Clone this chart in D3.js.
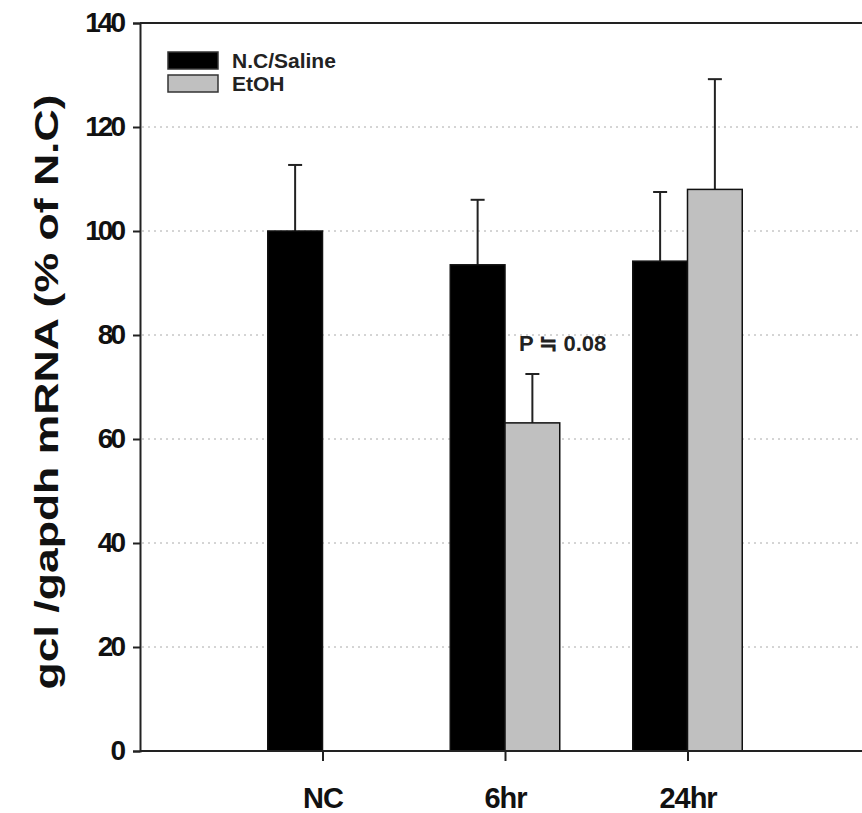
<!DOCTYPE html>
<html lang="en">
<head>
  <meta charset="UTF-8" />
  <title>gcl / gapdh mRNA</title>
  <script src="https://d3js.org/d3.v7.min.js"></script>
  <style>
    body {
      margin: 0;
      background: #fff;
    }
    svg {
      display: block;
      font-family: Arial, 'Liberation Sans', sans-serif;
    }
    .tick-label {
      font-size: 28px;
      font-weight: bold;
      letter-spacing: -3px;
      fill: #111;
    }
    .cat-label {
      font-size: 29px;
      font-weight: bold;
      letter-spacing: -1px;
      fill: #111;
    }
    .grid {
      stroke: #aaa;
      stroke-width: 1;
      stroke-dasharray: 2,4;
    }
  </style>
</head>
<body>
  <svg></svg>
  <script>
    const width = 862;
    const height = 813;

    // data
    const categories = ["NC", "6hr", "24hr"];
    const salineMeans = [100, 93.5, 94.2];
    const salineErr = [12.7, 12.5, 13.3];
    const etohMeans = [null, 63.1, 108];
    const etohErr = [null, 9.4, 21.2];
    const yTicks = [0, 20, 40, 60, 80, 100, 120, 140];
    const seriesNames = ["N.C/Saline", "EtOH"];
    const seriesColors = ["#000000", "#c0c0c0"];

    const svg = d3.select("svg")
      .attr("width", width)
      .attr("height", height);

    const y = d3.scaleLinear().domain([0, 140]).range([751, 23]);
    // categories sit at 1, 2, 3 on a 0..4 axis
    const x = d3.scaleLinear().domain([0, 4]).range([140, 870]);
    const barW = 0.3;

    // dotted grid
    svg.append("g")
      .selectAll("line")
      .data(yTicks.filter(d => d > 0 && d < 140))
      .join("line")
      .attr("class", "grid")
      .attr("x1", x(0) + 2)
      .attr("x2", width)
      .attr("y1", d => y(d))
      .attr("y2", d => y(d));

    // bars
    const rows = categories.map((c, i) => ({
      cat: c, pos: i + 1,
      s: salineMeans[i], se: salineErr[i],
      e: etohMeans[i], ee: etohErr[i]
    }));

    const bars = [];
    rows.forEach(r => {
      bars.push({ x0: r.pos - barW, x1: r.pos, v: r.s, err: r.se, fill: seriesColors[0] });
      if (r.e != null) bars.push({ x0: r.pos, x1: r.pos + barW, v: r.e, err: r.ee, fill: seriesColors[1] });
    });

    // error bars (upper only)
    const eb = svg.append("g").attr("stroke", "#222").attr("stroke-width", 2);
    bars.forEach(b => {
      const cx = (x(b.x0) + x(b.x1)) / 2;
      eb.append("line")
        .attr("x1", cx).attr("x2", cx)
        .attr("y1", y(b.v)).attr("y2", y(b.v + b.err));
      eb.append("line")
        .attr("x1", cx - 7).attr("x2", cx + 7)
        .attr("y1", y(b.v + b.err)).attr("y2", y(b.v + b.err));
    });

    svg.append("g")
      .selectAll("rect")
      .data(bars)
      .join("rect")
      .attr("x", d => x(d.x0))
      .attr("width", d => x(d.x1) - x(d.x0))
      .attr("y", d => y(d.v))
      .attr("height", d => y(0) - y(d.v))
      .attr("fill", d => d.fill)
      .attr("stroke", "#111")
      .attr("stroke-width", 1.5);

    // y axis
    const yAxis = svg.append("g")
      .attr("transform", `translate(${x(0)},0)`)
      .call(d3.axisLeft(y).tickValues(yTicks).tickSize(7).tickPadding(10).tickFormat(d3.format("d")));
    yAxis.select(".domain").attr("stroke", "#222").attr("stroke-width", 2);
    yAxis.selectAll(".tick line").attr("stroke", "#222").attr("stroke-width", 2);
    yAxis.selectAll(".tick text").attr("class", "tick-label").attr("font-size", null).attr("font-family", null);

    // top frame line
    svg.append("line")
      .attr("x1", x(0)).attr("x2", width)
      .attr("y1", y(140)).attr("y2", y(140))
      .attr("stroke", "#222").attr("stroke-width", 2);

    // x axis
    const xAxis = svg.append("g")
      .attr("transform", `translate(0,${y(0)})`)
      .call(d3.axisBottom(x).tickValues([1, 2, 3]).tickSize(10).tickPadding(26)
        .tickFormat(d => categories[d - 1]));
    xAxis.select(".domain").attr("d", `M${x(0)},0H${width}`).attr("stroke", "#222").attr("stroke-width", 2);
    xAxis.selectAll(".tick line").attr("stroke", "#222").attr("stroke-width", 2);
    xAxis.selectAll(".tick text").attr("class", "cat-label").attr("font-size", null).attr("font-family", null);

    // y label (stretched along its length like the original)
    svg.append("text")
      .attr("transform", `translate(58,392) rotate(-90)`)
      .attr("text-anchor", "middle")
      .attr("font-size", 34)
      .attr("font-weight", "bold")
      .attr("fill", "#111")
      .attr("textLength", 595)
      .attr("lengthAdjust", "spacingAndGlyphs")
      .text("gcl /gapdh mRNA (% of N.C)");

    // legend
    const legend = svg.append("g").attr("transform", "translate(168,52)");
    seriesNames.forEach((name, i) => {
      legend.append("rect")
        .attr("x", 0).attr("y", i * 23)
        .attr("width", 50).attr("height", 17)
        .attr("fill", seriesColors[i])
        .attr("stroke", "#333").attr("stroke-width", 1.5);
      legend.append("text")
        .attr("x", 64).attr("y", i * 23 + 16)
        .attr("font-size", 21)
        .attr("font-weight", "bold")
        .attr("fill", "#222")
        .text(name);
    });

    // p-value annotation
    svg.append("text")
      .attr("x", x(2) + 14)
      .attr("y", y(77))
      .attr("font-size", 22)
      .attr("font-weight", "bold")
      .attr("fill", "#222")
      .text("P \u2252 0.08");
  </script>
</body>
</html>
